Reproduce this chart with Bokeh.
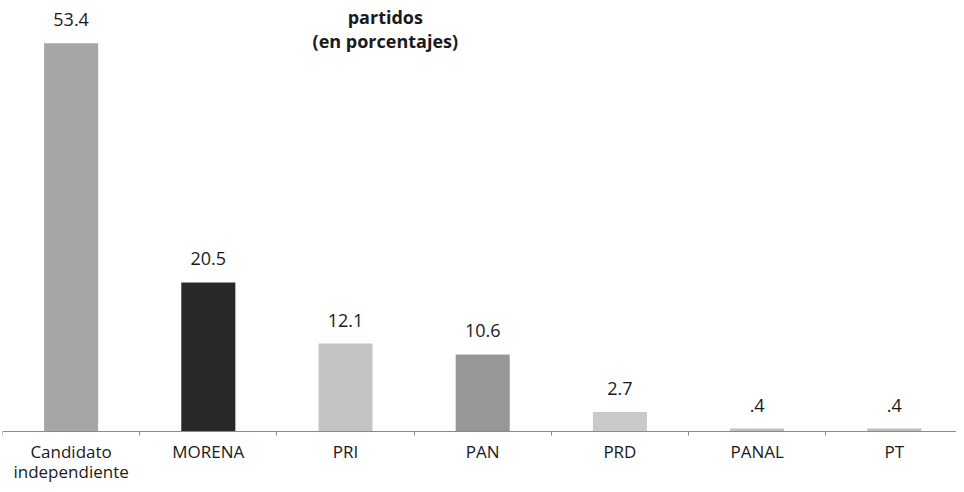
from bokeh.plotting import figure
from bokeh.models import ColumnDataSource, Range1d, FixedTicker, Label
from bokeh.core.properties import value
from bokeh.embed import file_html
from bokeh.resources import INLINE

categories = ["Candidato\nindependiente", "MORENA", "PRI", "PAN", "PRD", "PANAL", "PT"]
values = [53.4, 20.5, 12.1, 10.6, 2.7, 0.4, 0.4]
value_labels = ["53.4", "20.5", "12.1", "10.6", "2.7", ".4", ".4"]
bar_colors = ["#a6a6a6", "#282828", "#c4c4c4", "#979797", "#c9c9c9", "#c0c0c0", "#bdbdbd"]
title_lines = ["partidos", "(en porcentajes)"]

Y_TOP = 59.29
Y_BOTTOM = -7.29

xs = [i + 0.5 for i in range(len(categories))]
src = ColumnDataSource(dict(x=xs, top=values, lab=value_labels, color=bar_colors))

p = figure(width=956, height=484, output_backend="svg", toolbar_location=None,
           x_range=Range1d(0, 6.953), y_range=Range1d(Y_BOTTOM, Y_TOP))
p.min_border_left = 2
p.min_border_right = 0
p.min_border_top = 0
p.min_border_bottom = 0
p.outline_line_color = None
p.xgrid.visible = False
p.ygrid.visible = False
p.yaxis.visible = False
p.background_fill_color = "white"
p.border_fill_color = "white"

p.vbar(x="x", top="top", bottom=0, width=0.394, fill_color="color", line_color=None, source=src)
p.text(x="x", y="top", text="lab", source=src, text_align="center", text_baseline="bottom",
       y_offset=-17, text_font=value("Open Sans"), text_font_size="18px", text_color="#1a1a1a")

ax = p.xaxis[0]
ax.fixed_location = 0
ax.ticker = FixedTicker(ticks=xs, minor_ticks=list(range(len(categories) + 1)))
ax.major_label_overrides = {x: c for x, c in zip(xs, categories)}
ax.major_tick_line_color = None
ax.major_tick_in = 0
ax.major_tick_out = 0
ax.minor_tick_in = 0
ax.minor_tick_out = 4
ax.minor_tick_line_color = "#8a8a8a"
ax.axis_line_color = "#8a8a8a"
ax.axis_line_width = 1.2
ax.major_label_standoff = 4
ax.axis_label_standoff = 0
ax.major_label_text_line_height = 0.88
ax.major_label_text_font = "Open Sans"
ax.major_label_text_font_size = "17px"
ax.major_label_text_color = "#1a1a1a"

p.add_layout(Label(x=2.79, y=Y_TOP, y_offset=-16, text=title_lines[0], text_align="center",
                   text_baseline="alphabetic", text_font="Open Sans", text_font_style="bold",
                   text_font_size="18px", text_color="#1a1a1a"))
p.add_layout(Label(x=2.79, y=Y_TOP, y_offset=-40, text=title_lines[1], text_align="center",
                   text_baseline="alphabetic", text_font="Open Sans", text_font_style="bold",
                   text_font_size="18px", text_color="#1a1a1a"))

open("out.html", "w").write(file_html(p, INLINE))
